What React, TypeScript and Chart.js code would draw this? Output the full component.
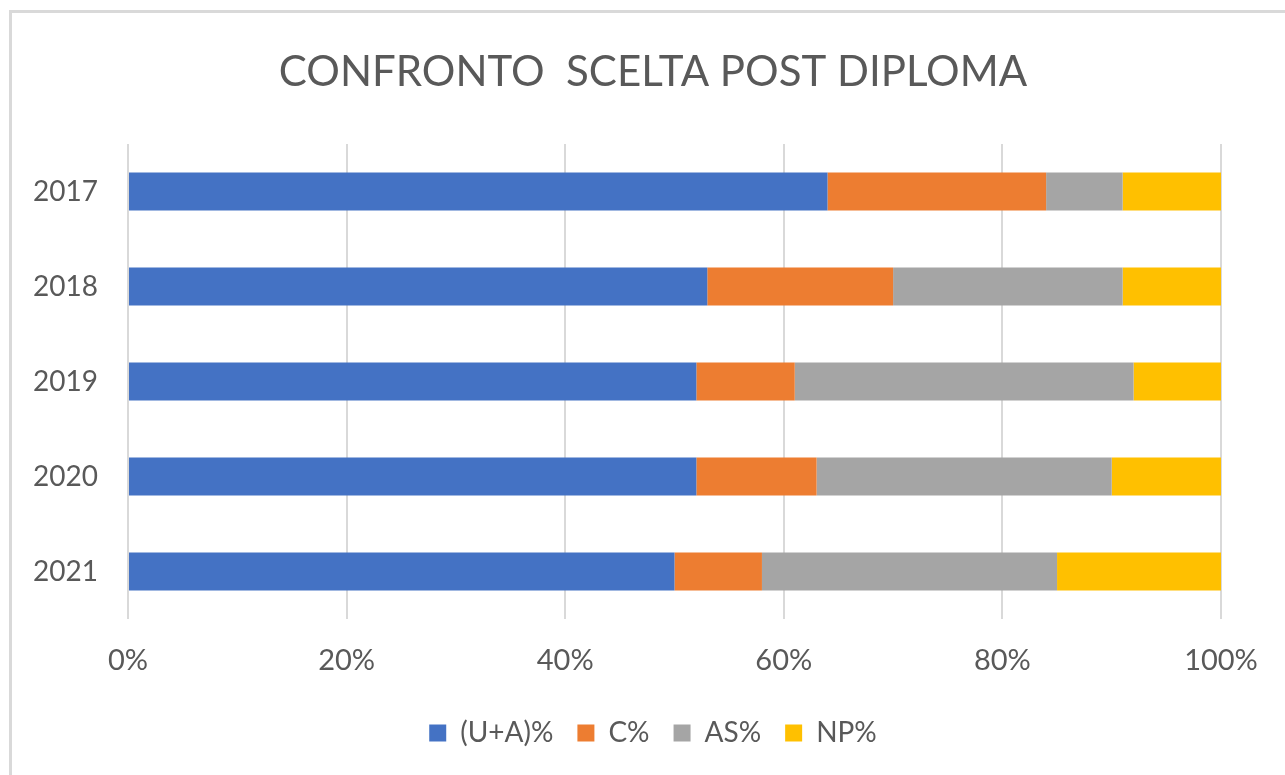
import React, { useEffect, useRef } from "react";
import { Chart, registerables } from "chart.js";

Chart.register(...registerables);

const categories = ["2017", "2018", "2019", "2020", "2021"];
const uaValues = [64, 53, 52, 52, 50];
const cValues = [20, 17, 9, 11, 8];
const asValues = [7, 21, 31, 27, 27];
const npValues = [9, 9, 8, 10, 15];
const seriesNames = ["(U+A)%", "C%", "AS%", "NP%"];
const xTicks = [0, 20, 40, 60, 80, 100];

const TEXT = "#595959";
const FONT = "Lato";

const unclipYLabels = {
  id: "unclipYLabels",
  afterLayout(chart: any) {
    const y = chart.scales.y;
    if (y) y.left = 0;
  },
};

export default function App() {
  const ref = useRef<HTMLCanvasElement | null>(null);

  useEffect(() => {
    document.body.style.margin = "0";
    const canvas = ref.current;
    if (!canvas) return;
    const chart = new Chart(canvas, {
      type: "bar",
      plugins: [unclipYLabels],
      data: {
        labels: categories,
        datasets: [
          { label: seriesNames[0], data: uaValues, backgroundColor: "#4472C4" },
          { label: seriesNames[1], data: cValues, backgroundColor: "#ED7D31" },
          { label: seriesNames[2], data: asValues, backgroundColor: "#A5A5A5" },
          { label: seriesNames[3], data: npValues, backgroundColor: "#FFC000" },
        ].map((d) => ({ ...d, barPercentage: 0.4, categoryPercentage: 1, borderWidth: 0 })),
      },
      options: {
        indexAxis: "y",
        responsive: false,
        animation: false,
        layout: { padding: { top: 0, left: 85, right: 64, bottom: 18 } },
        plugins: {
          title: {
            display: true,
            text: "CONFRONTO  SCELTA POST DIPLOMA",
            color: TEXT,
            font: { family: FONT, size: 42, weight: "normal" },
            padding: { top: 47, bottom: 46.6 },
          },
          legend: {
            position: "bottom",
            labels: {
              color: TEXT,
              font: { family: FONT, size: 28 },
              boxWidth: 17,
              boxHeight: 17,
              padding: 24,
            },
          },
          tooltip: { enabled: false },
        },
        scales: {
          x: {
            stacked: true,
            min: 0,
            max: 100,
            afterBuildTicks: (scale: any) => {
              scale.ticks = xTicks.map((v) => ({ value: v }));
            },
            afterFit: (scale: any) => {
              scale.height = 76;
            },
            ticks: {
              color: TEXT,
              font: { family: FONT, size: 29 },
              padding: 24,
              callback: (v: any) => v + "%",
            },
            grid: { color: "#D9D9D9", lineWidth: 2, drawTicks: false, tickLength: 0 },
            border: { display: false },
          },
          y: {
            stacked: true,
            afterFit: (scale: any) => {
              scale.width = 43;
            },
            ticks: {
              color: TEXT,
              font: { family: FONT, size: 28 },
              padding: 30,
            },
            grid: { display: false, drawTicks: false, tickLength: 0 },
            border: { display: false },
          },
        },
      },
    });
    return () => chart.destroy();
  }, []);

  return (
    <div style={{ position: "fixed", left: 0, top: 0, width: 1285, height: 775, overflow: "hidden", background: "#fff" }}>
      <div
        style={{
          position: "absolute",
          left: 9,
          top: 10,
          width: 1400,
          height: 900,
          border: "3px solid #D9D9D9",
          boxSizing: "border-box",
        }}
      />
      <canvas ref={ref} width={1285} height={775} style={{ position: "absolute", left: 0, top: 0 }} />
    </div>
  );
}
